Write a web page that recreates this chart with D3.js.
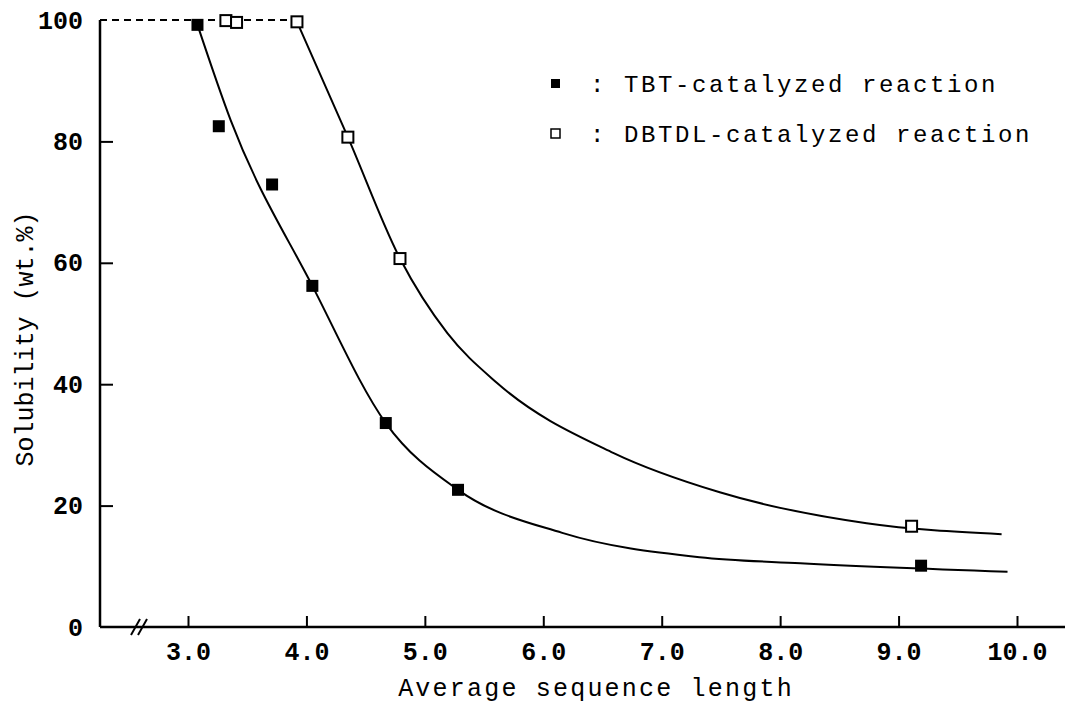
<!DOCTYPE html>
<html>
<head>
<meta charset="utf-8">
<script src="https://cdn.jsdelivr.net/npm/d3@7/dist/d3.min.js"></script>
<style>
  body { margin: 0; background: #fff; }
  svg { display: block; }
  text { font-family: "Courier New", "Liberation Mono", monospace; fill: #000; }
</style>
</head>
<body>
<svg id="chart" width="1065" height="707"></svg>
<script>
// valores
const tbtPoints = [[3.08, 99.2], [3.26, 82.5], [3.71, 72.9], [4.05, 56.2], [4.67, 33.6], [5.28, 22.6], [9.19, 10.1]];
const dbtdlPoints = [[3.32, 99.9], [3.41, 99.6], [3.92, 99.7], [4.35, 80.7], [4.79, 60.7], [9.11, 16.6]];

// curvas ajustadas (trazadas a mano en el original)
const tbtCurve = [[3.08, 99.2], [3.36, 83.5], [4.05, 56.2], [4.67, 33.6], [5.28, 22.6], [6.16, 15.5],
  [7.32, 11.5], [8.17, 10.5], [9.92, 9.1]];
const dbtdlCurve = [[3.92, 99.7], [4.35, 80.7], [4.79, 60.7], [5.19, 48.4], [5.61, 40.2], [6.59, 28.7],
  [7.49, 22.2], [8.73, 17.1], [9.87, 15.3]];

const plateauEnd = 3.92;   // linea discontinua en 100 %
const xTicks = [3, 4, 5, 6, 7, 8, 9, 10];
const yTicks = [0, 20, 40, 60, 80, 100];
const legendLabels = ["TBT-catalyzed reaction", "DBTDL-catalyzed reaction"];

const svg = d3.select("#chart");
const plotLeft = 100, plotRight = 1065, plotTop = 20, plotBottom = 627;

const x = d3.scaleLinear().domain([3, 10]).range([188, 1017]);
const y = d3.scaleLinear().domain([0, 100]).range([plotBottom, plotTop]);

// ejes
const xAxis = svg.append("g")
    .attr("transform", `translate(0,${plotBottom})`)
    .call(d3.axisBottom(x).tickValues(xTicks).tickFormat(d3.format(".1f")).tickSize(-11).tickPadding(15));
const yAxis = svg.append("g")
    .attr("transform", `translate(${plotLeft},0)`)
    .call(d3.axisLeft(y).tickValues(yTicks).tickFormat(d3.format("d")).tickSize(-13).tickPadding(17));

[xAxis, yAxis].forEach(g => {
    g.select(".domain").remove();
    g.selectAll(".tick line").attr("stroke", "#000").attr("stroke-width", 2);
    g.selectAll(".tick text")
        .style("font-size", "25px")
        .style("font-weight", "bold");
});
yAxis.selectAll(".tick").filter(d => d === 0 || d === 100).select("line").remove();

svg.append("line")
    .attr("x1", plotLeft).attr("x2", plotRight).attr("y1", plotBottom).attr("y2", plotBottom)
    .attr("stroke", "#000").attr("stroke-width", 2.5);
svg.append("line")
    .attr("x1", plotLeft).attr("x2", plotLeft).attr("y1", plotTop).attr("y2", plotBottom)
    .attr("stroke", "#000").attr("stroke-width", 2.5);

// marca de corte del eje x
[0, 7].forEach(off => {
    svg.append("line")
        .attr("x1", 131 + off).attr("y1", 635)
        .attr("x2", 140 + off).attr("y2", 619)
        .attr("stroke", "#000").attr("stroke-width", 2);
});

// linea discontinua en 100
svg.append("line")
    .attr("x1", plotLeft).attr("x2", x(plateauEnd))
    .attr("y1", y(100)).attr("y2", y(100))
    .attr("stroke", "#000").attr("stroke-width", 2)
    .attr("stroke-dasharray", "7,5");

// curvas
const line = d3.line()
    .x(d => x(d[0]))
    .y(d => y(d[1]))
    .curve(d3.curveMonotoneX);

[tbtCurve, dbtdlCurve].forEach(c => {
    svg.append("path")
        .datum(c)
        .attr("d", line)
        .attr("fill", "none")
        .attr("stroke", "#000")
        .attr("stroke-width", 2);
});

// puntos
const s = 12;
svg.selectAll(".tbt")
    .data(tbtPoints)
    .enter().append("rect")
    .attr("class", "tbt")
    .attr("x", d => x(d[0]) - s / 2)
    .attr("y", d => y(d[1]) - s / 2)
    .attr("width", s).attr("height", s)
    .attr("fill", "#000");

const so = 11;
svg.selectAll(".dbtdl")
    .data(dbtdlPoints)
    .enter().append("rect")
    .attr("class", "dbtdl")
    .attr("x", d => x(d[0]) - so / 2)
    .attr("y", d => y(d[1]) - so / 2)
    .attr("width", so).attr("height", so)
    .attr("fill", "#fff")
    .attr("stroke", "#000")
    .attr("stroke-width", 2);

// leyenda
const legend = svg.append("g");
legendLabels.forEach((label, i) => {
    const cy = 83 + i * 50;
    legend.append("rect")
        .attr("x", 551).attr("y", cy - 4)
        .attr("width", 9).attr("height", 9)
        .attr("fill", i === 0 ? "#000" : "#fff")
        .attr("stroke", "#000")
        .attr("stroke-width", i === 0 ? 0 : 1.5);
    legend.append("text")
        .attr("x", 590).attr("y", cy + 9)
        .style("font-size", "24px")
        .style("letter-spacing", "2.6px")
        .text(": " + label);
});

// titulos de los ejes
svg.append("text")
    .attr("x", 596).attr("y", 696)
    .attr("text-anchor", "middle")
    .style("font-size", "25px")
    .style("letter-spacing", "2.2px")
    .text("Average sequence length");

svg.append("text")
    .attr("transform", "translate(33,339) rotate(-90)")
    .attr("text-anchor", "middle")
    .style("font-size", "25px")
    .text("Solubility (wt.%)");
</script>
</body>
</html>
